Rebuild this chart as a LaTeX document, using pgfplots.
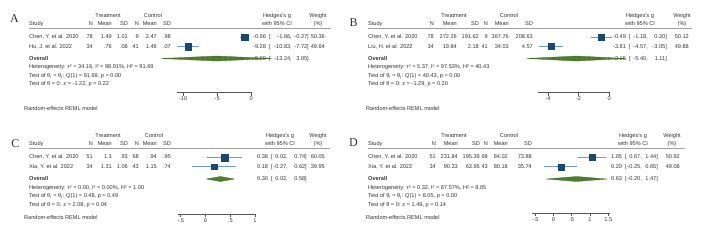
\documentclass[border=0pt]{standalone}
\usepackage{fontspec}
\setmainfont{Liberation Sans}
\newfontfamily\letterfont{Liberation Serif}
\usepackage{pgfplots}
\pgfplotsset{compat=1.18}

\definecolor{txt}{HTML}{333333}
\definecolor{sqblue}{HTML}{1A476F}
\definecolor{ciblue}{HTML}{6E9CC6}
\definecolor{ovgreen}{HTML}{4E7D2C}
\definecolor{rulegray}{HTML}{A0A0A0}
\definecolor{axisgray}{HTML}{555555}

\newcommand\fs{\fontsize{5.6bp}{6.5bp}\selectfont}
\newcommand\panelletter{\letterfont\fontsize{12bp}{12bp}\selectfont}

\pgfplotsset{
  forest/.style={
    y=1bp, anchor=south west, clip=false,
    axis x line=bottom, axis y line=none, ytick=\empty,
    x axis line style={-, draw=axisgray, line width=0.6bp},
    tick align=outside, major tick length=3bp,
    xtick style={draw=axisgray, line width=0.6bp},
    xticklabel style={font=\fs, text=txt, inner sep=1bp},
  },
  ci/.style={ciblue, line width=0.8bp},
  sq/.style={only marks, mark=square*, sqblue, mark options={draw=sqblue, fill=sqblue}},
  dia/.style={fill=ovgreen, draw=ovgreen!80!black, line width=0.3bp},
}

% column headers and rule of one panel: #1 group row, #2 header row, #3 rule
\newcommand\tablehead[3]{%
  \node[t] at (\gT,#1) {Treatment};
  \node[t] at (\gC,#1) {Control};
  \node[t] at (\hH,#1) {Hedges's g};
  \node[t] at (\hW,#1) {Weight};
  \node[t,anchor=west] at (\cS,#2) {Study};
  \node[t,anchor=east] at (\cA,#2) {N};
  \node[t,anchor=east] at (\cB,#2) {Mean};
  \node[t,anchor=east] at (\cC,#2) {SD};
  \node[t,anchor=east] at (\cD,#2) {N};
  \node[t,anchor=east] at (\cF,#2) {Mean};
  \node[t,anchor=east] at (\cG,#2) {SD};
  \node[t] at (\hH,#2) {with 95\% CI};
  \node[t] at (\hW,#2) {(\%)};
  \draw[rulegray, line width=0.7bp] (\cS,#3) -- (\rR,#3);
}
% one study: y, name, N, mean, SD (treatment), N, mean, SD (control)
\newcommand\datarow[8]{%
  \node[t,anchor=west] at (\cS,#1) {#2};
  \node[t,anchor=east] at (\cA,#1) {#3};
  \node[t,anchor=east] at (\cB,#1) {#4};
  \node[t,anchor=east] at (\cC,#1) {#5};
  \node[t,anchor=east] at (\cD,#1) {#6};
  \node[t,anchor=east] at (\cF,#1) {#7};
  \node[t,anchor=east] at (\cG,#1) {#8};
}
% effect size with CI and weight: y, g, lower, upper, weight
\newcommand\cirow[5]{%
  \node[t,anchor=west] at (\cE,#1) {#2~~[};
  \node[t,anchor=east] at (\cL,#1) {#3,};
  \node[t,anchor=east] at (\cU,#1) {#4]};
  \node[t,anchor=east] at (\cW,#1) {#5};
}
% overall block: y overall, y het, y test1, y test2, het text, Q text, z text
\newcommand\overallblock[7]{%
  \node[t,anchor=west,font=\fs\bfseries] at (\cS,#1) {Overall};
  \node[t,anchor=west] at (\cS,#2) {Heterogeneity: τ² = #5};
  \node[t,anchor=west] at (\cS,#3) {Test of θ\textsubscript{i} = θ\textsubscript{j}: #6};
  \node[t,anchor=west] at (\cS,#4) {Test of θ = 0: #7};
}

\begin{document}
\begin{tikzpicture}[x=1bp, y=-1bp,
  t/.style={font=\fs, text=txt, inner sep=0pt, text height=4.1bp, text depth=1.1bp}]
\path[use as bounding box] (0,0) rectangle (709,245);

% ================= Panel A =================
\def\cS{29}\def\cA{93}\def\cB{112}\def\cC{128}\def\cD{139}\def\cF{157}\def\cG{171}
\def\cE{253}\def\cL{292}\def\cU{309}\def\cW{325}
\def\gT{108}\def\gC{153}\def\hH{277}\def\hW{318}\def\rR{331}
\node[text=txt, font=\panelletter, inner sep=0pt] at (14.5,19) {A};
\tablehead{16}{24}{28.5}
\datarow{37}{Chen, Y. et al. 2020}{78}{1.49}{1.01}{9}{2.47}{.98}
\datarow{46.5}{Hu, J. et al. 2022}{34}{.76}{.08}{41}{1.46}{.07}
\cirow{37}{-0.96}{-1.66}{-0.27}{50.36}
\cirow{46.5}{-9.28}{-10.83}{-7.72}{49.64}
\cirow{58.5}{-5.09}{-13.24}{3.05}{}
\overallblock{58.5}{67}{75.5}{84}{34.16, I² = 98.91\%, H² = 91.69}{Q(1) = 91.69, p = 0.00}{z = -1.22, p = 0.22}
\node[t,anchor=west] at (24,108.5) {Random-effects REML model};

\begin{axis}[forest, x=6.8bp, xmin=-10.9, xmax=0.15, ymin=-92.5, ymax=-30,
  at={(177bp,-92.5bp)}, xtick={-10,-5,0}, xticklabels={-10,-5,0}]
\addplot[ci] coordinates {(-1.66,-37) (-0.27,-37)};
\addplot[ci] coordinates {(-10.83,-46.5) (-7.72,-46.5)};
\addplot[sq, mark size=3.3bp] coordinates {(-0.96,-37)};
\addplot[sq, mark size=3.3bp] coordinates {(-9.28,-46.5)};
\addplot[dia] coordinates {(-13.24,-58.5) (-5.09,-56) (3.05,-58.5) (-5.09,-61)} -- cycle;
\end{axis}

% ================= Panel B =================
\def\cS{368}\def\cA{434}\def\cB{457}\def\cC{479}\def\cD{488}\def\cF{509}\def\cG{533}
\def\cE{613}\def\cL{648}\def\cU{667}\def\cW{689}
\def\gT{454}\def\gC{509}\def\hH{640}\def\hW{682}\def\rR{692}
\node[text=txt, font=\panelletter, inner sep=0pt] at (353.5,23) {B};
\tablehead{16}{24}{28.5}
\datarow{37}{Chen, Y. et al. 2020}{78}{272.26}{191.62}{9}{367.76}{208.63}
\datarow{46.5}{Liu, H. et al. 2022}{34}{19.84}{2.18}{41}{34.03}{4.57}
\cirow{37}{-0.49}{-1.18}{0.20}{50.12}
\cirow{46.5}{-3.81}{-4.57}{-3.05}{49.88}
\cirow{58.5}{-2.15}{-5.40}{1.11}{}
\overallblock{58.5}{67}{75.5}{84}{5.37, I² = 97.53\%, H² = 40.43}{Q(1) = 40.43, p = 0.00}{z = -1.29, p = 0.20}
\node[t,anchor=west] at (366,108.5) {Random-effects REML model};

\begin{axis}[forest, x=15.25bp, xmin=-4.66, xmax=0.07, ymin=-92.5, ymax=-30,
  at={(538bp,-92.5bp)}, xtick={-4,-2,0}, xticklabels={-4,-2,0}]
\addplot[ci] coordinates {(-1.18,-37) (0.20,-37)};
\addplot[ci] coordinates {(-4.57,-46.5) (-3.05,-46.5)};
\addplot[sq, mark size=3.0bp] coordinates {(-0.49,-37)};
\addplot[sq, mark size=3.0bp] coordinates {(-3.81,-46.5)};
\addplot[dia] coordinates {(-5.40,-58.5) (-2.15,-56) (1.11,-58.5) (-2.15,-61)} -- cycle;
\end{axis}

% ================= Panel C =================
\def\cS{29}\def\cA{93}\def\cB{112}\def\cC{128}\def\cD{139}\def\cF{157}\def\cG{171}
\def\cE{257}\def\cL{288}\def\cU{307}\def\cW{325}
\def\gT{108}\def\gC{154}\def\hH{280}\def\hW{318}\def\rR{330}
\node[text=txt, font=\panelletter, inner sep=0pt] at (15.5,144) {C};
\tablehead{135.5}{144}{148.5}
\datarow{157.3}{Chen, Y. et al. 2020}{51}{1.3}{.93}{68}{.94}{.95}
\datarow{166.7}{Xia, Y. et al. 2022}{34}{1.31}{1.06}{43}{1.15}{.74}
\cirow{157.3}{0.38}{0.02}{0.74}{60.05}
\cirow{166.7}{0.18}{-0.27}{0.62}{39.95}
\cirow{179}{0.30}{0.02}{0.58}{}
\overallblock{178.5}{187.5}{196}{204.5}{0.00, I² = 0.00\%, H² = 1.00}{Q(1) = 0.48, p = 0.49}{z = 2.08, p = 0.04}
\node[t,anchor=west] at (24,218) {Random-effects REML model};

\begin{axis}[forest, x=49.5bp, xmin=-0.556, xmax=1.0, ymin=-214, ymax=-150,
  at={(178bp,-214bp)}, xtick={-0.5,0,0.5,1}, xticklabels={-.5,0,.5,1}]
\addplot[ci] coordinates {(0.02,-157.3) (0.74,-157.3)};
\addplot[ci] coordinates {(-0.27,-166.7) (0.62,-166.7)};
\addplot[sq, mark size=3.5bp] coordinates {(0.38,-157.3)};
\addplot[sq, mark size=2.8bp] coordinates {(0.18,-166.7)};
\addplot[dia] coordinates {(0.02,-179) (0.30,-176.5) (0.58,-179) (0.30,-181.5)} -- cycle;
\end{axis}

% ================= Panel D =================
\def\cS{368}\def\cA{436}\def\cB{458}\def\cC{480}\def\cD{488}\def\cF{508}\def\cG{532}
\def\cE{611}\def\cL{642}\def\cU{658}\def\cW{680}
\def\gT{454}\def\gC{509}\def\hH{633}\def\hW{672}\def\rR{685}
\node[text=txt, font=\panelletter, inner sep=0pt] at (353.5,143) {D};
\tablehead{135.5}{144}{148.5}
\datarow{157.3}{Chen, Y. et al. 2020}{51}{231.84}{195.39}{68}{84.02}{73.88}
\datarow{166.7}{Xia, Y. et al. 2022}{34}{90.33}{63.95}{43}{80.18}{35.74}
\cirow{157.3}{1.05}{0.67}{1.44}{50.92}
\cirow{166.7}{0.20}{-0.25}{0.65}{49.08}
\cirow{179}{0.63}{-0.20}{1.47}{}
\overallblock{178.5}{187.5}{196}{204.5}{0.32, I² = 87.57\%, H² = 8.05}{Q(1) = 8.05, p = 0.00}{z = 1.49, p = 0.14}
\node[t,anchor=west] at (366,218) {Random-effects REML model};

\begin{axis}[forest, x=36.5bp, xmin=-0.589, xmax=1.55, ymin=-213, ymax=-150,
  at={(532bp,-213bp)}, xtick={-0.5,0,0.5,1,1.5}, xticklabels={-.5,0,.5,1,1.5}]
\addplot[ci] coordinates {(0.67,-157.3) (1.44,-157.3)};
\addplot[ci] coordinates {(-0.25,-166.7) (0.65,-166.7)};
\addplot[sq, mark size=3.1bp] coordinates {(1.05,-157.3)};
\addplot[sq, mark size=3.0bp] coordinates {(0.20,-166.7)};
\addplot[dia] coordinates {(-0.20,-179) (0.63,-176.5) (1.47,-179) (0.63,-181.5)} -- cycle;
\end{axis}
\end{tikzpicture}
\end{document}
